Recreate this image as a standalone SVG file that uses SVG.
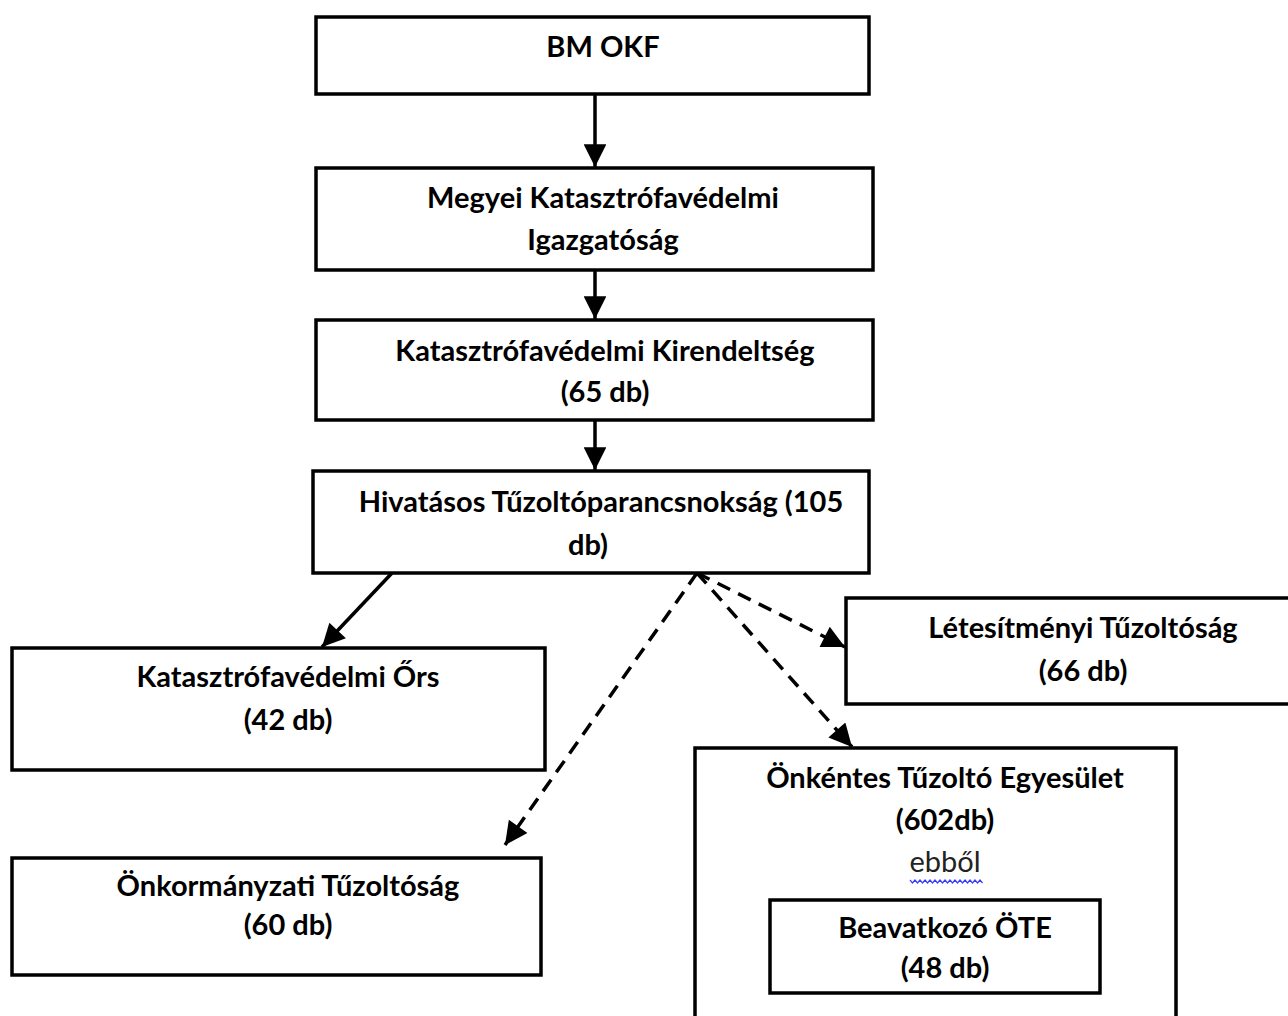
<svg xmlns="http://www.w3.org/2000/svg" width="1288" height="1016" viewBox="0 0 1288 1016">
<style>
.box{fill:#fff;stroke:#000;stroke-width:3.5}
.t{font-family:Lato,"Open Sans","Liberation Sans",sans-serif;font-weight:bold;font-size:29px;fill:#000;text-anchor:middle}
.r{font-family:Lato,"Open Sans","Liberation Sans",sans-serif;font-size:29px;fill:#222;text-anchor:middle}
.c{stroke:#000;stroke-width:3.5;fill:none}
.d{stroke-dasharray:14 9}
</style>
<defs>
<marker id="ah" viewBox="0 0 10 10" refX="10" refY="5" markerWidth="7.5" markerHeight="6.5" markerUnits="strokeWidth" orient="auto">
<path d="M0,0 L10,5 L0,10 Z" fill="#000"/>
</marker>
</defs>
<rect width="1288" height="1016" fill="#fff"/>
<g id="connectors">
<line class="c" x1="595" y1="94" x2="595" y2="167" marker-end="url(#ah)"/>
<line class="c" x1="595" y1="270" x2="595" y2="319" marker-end="url(#ah)"/>
<line class="c" x1="595" y1="420" x2="595" y2="470" marker-end="url(#ah)"/>
<line class="c" x1="392" y1="573" x2="322" y2="647" marker-end="url(#ah)"/>
<line class="c d" x1="697" y1="573" x2="505" y2="845" marker-end="url(#ah)"/>
<line class="c d" x1="697" y1="573" x2="845" y2="647" marker-end="url(#ah)"/>
<line class="c d" x1="697" y1="573" x2="852" y2="747" marker-end="url(#ah)"/>
</g>
<g id="bm-okf">
<rect class="box" x="316" y="17" width="553" height="77"/>
<text class="t" x="603" y="57">BM OKF</text>
</g>
<g id="megyei">
<rect class="box" x="316" y="168" width="557" height="102"/>
<text class="t" x="603" y="208">Megyei Katasztrófavédelmi</text>
<text class="t" x="603" y="250">Igazgatóság</text>
</g>
<g id="kirendeltseg">
<rect class="box" x="316" y="320" width="557" height="100"/>
<text class="t" x="605" y="361">Katasztrófavédelmi Kirendeltség</text>
<text class="t" x="605" y="402">(65 db)</text>
</g>
<g id="hivatasos">
<rect class="box" x="313" y="471" width="556" height="102"/>
<text class="t" x="601" y="512">Hivatásos Tűzoltóparancsnokság (105</text>
<text class="t" x="588" y="555">db)</text>
</g>
<g id="ors">
<rect class="box" x="12" y="648" width="533" height="122"/>
<text class="t" x="288" y="687">Katasztrófavédelmi Őrs</text>
<text class="t" x="288" y="730">(42 db)</text>
</g>
<g id="letesitmenyi">
<rect class="box" x="846" y="598" width="450" height="106"/>
<text class="t" x="1083" y="638">Létesítményi Tűzoltóság</text>
<text class="t" x="1083" y="681">(66 db)</text>
</g>
<g id="onkentes">
<rect class="box" x="695" y="748" width="481" height="280"/>
<text class="t" x="945" y="788">Önkéntes Tűzoltó Egyesület</text>
<text class="t" x="945" y="830">(602db)</text>
<text class="r" x="945" y="872">ebből</text>
<path d="M910,880 l2.5,3 2.5,-3 2.5,3 2.5,-3 2.5,3 2.5,-3 2.5,3 2.5,-3 2.5,3 2.5,-3 2.5,3 2.5,-3 2.5,3 2.5,-3 2.5,3 2.5,-3 2.5,3 2.5,-3 2.5,3 2.5,-3 2.5,3 2.5,-3 2.5,3 2.5,-3 2.5,3 2.5,-3 2.5,3 2.5,-3 2.5,3" fill="none" stroke="#3c3cff" stroke-width="1.2"/>
<g id="beavatkozo">
<rect class="box" x="770" y="900" width="330" height="93"/>
<text class="t" x="945" y="938">Beavatkozó ÖTE</text>
<text class="t" x="945" y="978">(48 db)</text>
</g>
</g>
<g id="onkormanyzati">
<rect class="box" x="12" y="858" width="529" height="117"/>
<text class="t" x="288" y="896">Önkormányzati Tűzoltóság</text>
<text class="t" x="288" y="935">(60 db)</text>
</g>
</svg>
